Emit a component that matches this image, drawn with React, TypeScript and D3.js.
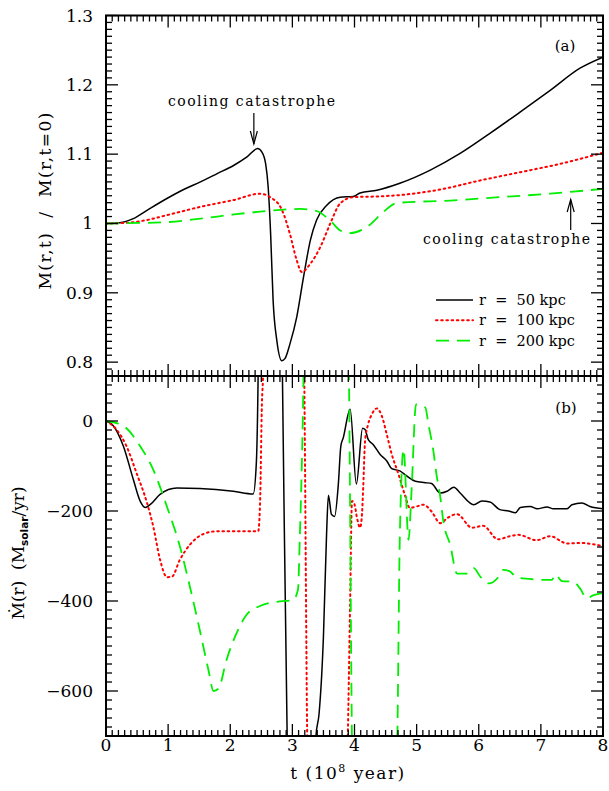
import React from "react";
import * as d3 from "d3";

// ---------- data ----------
// panel (a): M(r,t)/M(r,t=0)
const topR50: [number, number][] = [
  [0, 1.0], [0.22, 1.001], [0.44, 1.007], [0.66, 1.019], [0.98, 1.036], [1.25, 1.049],
  [1.52, 1.06], [1.79, 1.072], [2.06, 1.084], [2.27, 1.096], [2.44, 1.108], [2.51, 1.103],
  [2.57, 1.086], [2.61, 1.053], [2.65, 0.985], [2.69, 0.889], [2.75, 0.831], [2.83, 0.802],
  [2.88, 0.805], [2.96, 0.826], [3.07, 0.865], [3.18, 0.923], [3.29, 0.976], [3.39, 1.005],
  [3.55, 1.026], [3.77, 1.038], [3.98, 1.039], [4.09, 1.044], [4.36, 1.048], [4.73, 1.058],
  [5.22, 1.077], [5.7, 1.101], [6.18, 1.13], [6.67, 1.161], [7.15, 1.192], [7.63, 1.224], [8.0, 1.24],
];
const topR100: [number, number][] = [
  [0, 1.0], [0.33, 1.001], [0.66, 1.005], [0.98, 1.012], [1.52, 1.024], [2.06, 1.034],
  [2.48, 1.043], [2.64, 1.038], [2.83, 1.02], [2.96, 0.985], [3.07, 0.947], [3.15, 0.93],
  [3.29, 0.942], [3.45, 0.966], [3.61, 1.0], [3.77, 1.029], [3.98, 1.038], [4.36, 1.039],
  [4.73, 1.041], [5.38, 1.049], [6.02, 1.062], [6.67, 1.074], [7.31, 1.086], [8.0, 1.102],
];
const topR200: [number, number][] = [
  [0, 1.0], [0.98, 1.002], [1.52, 1.007], [2.06, 1.013], [2.59, 1.018], [3.13, 1.021],
  [3.39, 1.018], [3.61, 1.004], [3.77, 0.99], [3.93, 0.986], [4.2, 0.995], [4.47, 1.017],
  [4.63, 1.028], [4.73, 1.03], [5.54, 1.033], [6.34, 1.038], [7.15, 1.043], [8.0, 1.05],
];
// panel (b): Mdot(r)
const botR50: [number, number][] = [
  [0, 0], [0.12, -11], [0.28, -56], [0.44, -130], [0.55, -178], [0.63, -192], [0.71, -186],
  [0.87, -163], [1.14, -149], [1.51, -150], [2.05, -156], [2.37, -162], [2.42, -93], [2.45, 115],
  [2.47, 400], [2.81, 400], [2.84, 100], [2.92, -740], [2.95, -900], [3.34, -900], [3.38, -700],
  [3.43, -650], [3.5, -479], [3.55, -253], [3.58, -165], [3.63, -208], [3.68, -212], [3.74, -140],
  [3.78, -56], [3.82, -37], [3.93, 26], [4.03, -140], [4.13, -16], [4.17, -19], [4.22, -41],
  [4.3, -52], [4.41, -74], [4.52, -89], [4.6, -106], [4.73, -111], [4.84, -122], [4.98, -134],
  [5.14, -137], [5.24, -139], [5.38, -160], [5.49, -156], [5.6, -147], [5.7, -160], [5.92, -186],
  [6.05, -178], [6.18, -180], [6.34, -197], [6.48, -200], [6.59, -204], [6.67, -192], [6.83, -190],
  [6.94, -195], [7.1, -191], [7.2, -195], [7.42, -195], [7.5, -186], [7.66, -182], [7.79, -190],
  [8.0, -195],
];
const botR100: [number, number][] = [
  [0, 0], [0.17, -19], [0.33, -56], [0.49, -115], [0.66, -182], [0.76, -234], [0.87, -308],
  [0.98, -347], [1.06, -346], [1.19, -308], [1.35, -275], [1.57, -251], [1.79, -245], [2.05, -245],
  [2.45, -245], [2.48, -182], [2.51, 41], [2.53, 115], [2.55, 400], [3.16, 400], [3.19, 115],
  [3.24, -720], [3.26, -900], [3.86, -900], [3.89, -720], [3.93, -400], [3.96, -178], [4.0, -185],
  [4.04, -215], [4.09, -237], [4.12, -208], [4.14, -149], [4.17, -45], [4.22, -7], [4.28, 15],
  [4.36, 28], [4.44, 11], [4.52, -30], [4.6, -74], [4.71, -119], [4.81, -164], [4.89, -193],
  [5.0, -190], [5.11, -186], [5.24, -201], [5.38, -227], [5.5, -215], [5.65, -207], [5.89, -237],
  [6.07, -233], [6.31, -263], [6.5, -256], [6.64, -253], [6.93, -265], [7.15, -256], [7.42, -272],
  [7.63, -271], [8.0, -278],
];
const botR200: [number, number][] = [
  [0, 0], [0.28, -11], [0.55, -56], [0.76, -108], [0.98, -190], [1.19, -279], [1.35, -368],
  [1.51, -465], [1.65, -554], [1.73, -600], [1.81, -595], [1.94, -531], [2.1, -472], [2.26, -431],
  [2.48, -411], [2.8, -401], [3.01, -398], [3.09, -375], [3.12, -257], [3.15, -108], [3.18, 115],
  [3.2, 400], [3.88, 400], [3.91, 115], [3.96, -720], [3.98, -900], [4.66, -900], [4.69, -700],
  [4.73, -253], [4.79, -63], [4.87, -264], [4.92, -150], [4.99, 37], [5.14, 30], [5.19, -7],
  [5.27, -67], [5.32, -119], [5.38, -168], [5.43, -223], [5.54, -275], [5.65, -339], [5.81, -339],
  [5.92, -327], [6.02, -345], [6.16, -361], [6.32, -346], [6.39, -331], [6.5, -334], [6.61, -348],
  [6.83, -351], [6.99, -353], [7.18, -353], [7.23, -341], [7.34, -356], [7.52, -357], [7.63, -372],
  [7.74, -394], [7.85, -387], [8.0, -383],
];

const xTickLabels = ["0", "1", "2", "3", "4", "5", "6", "7", "8"];
const topTickValues = [0.8, 0.9, 1.0, 1.1, 1.2, 1.3];
const topTickLabels = ["0.8", "0.9", "1", "1.1", "1.2", "1.3"];
const botTickValues = [0, -200, -400, -600];
const botTickLabels = ["0", "\u2212200", "\u2212400", "\u2212600"];
const legendLabels = ["r  =  50 kpc", "r  =  100 kpc", "r  =  200 kpc"];

const FONT = "'DejaVu Serif', serif";

const styles = [
  { stroke: "#000", dash: undefined as string | undefined, width: 1.5, cap: "butt" },
  { stroke: "#ff0000", dash: "1.6 3.6", width: 2, cap: "round" },
  { stroke: "#00ee00", dash: "13 8", width: 1.8, cap: "butt" },
];

export default function App() {
  const L = 106, R = 603;
  const T1 = 15.5, B1 = 376, T2 = 376, B2 = 736;
  const x = d3.scaleLinear().domain([0, 8]).range([L, R]);
  const yTop = d3.scaleLinear().domain([0.78, 1.3]).range([B1, T1]);
  const yBot = d3.scaleLinear().domain([-700, 100]).range([B2, T2]);

  const lineTop = d3.line<[number, number]>().x(d => x(d[0])).y(d => yTop(d[1])).curve(d3.curveMonotoneX);
  const lineBot = d3.line<[number, number]>().x(d => x(d[0])).y(d => yBot(d[1])).curve(d3.curveMonotoneX);

  const xMinor = d3.range(0, 80.5, 1).map(i => i / 10);
  const topMinor = d3.range(78, 130.5, 1).map(i => i / 100);
  const botMinor = d3.range(-700, 101, 20);

  const MAJ = 12, MIN = 6;
  const tickEls: React.ReactNode[] = [];
  const tk = (key: string, x1: number, y1: number, x2: number, y2: number, w = 1.3) =>
    tickEls.push(<line key={key} x1={x1} y1={y1} x2={x2} y2={y2} stroke="#000" strokeWidth={w} />);

  xMinor.forEach((v, i) => {
    const major = i % 10 === 0;
    const len = major ? MAJ : MIN;
    const px = x(v);
    [[T1, 1], [B1, -1], [T2, 1], [B2, -1]].forEach(([yy, dir], j) =>
      tk(`x${i}_${j}`, px, yy, px, yy + dir * len));
  });
  topMinor.forEach((v, i) => {
    const major = Math.round(v * 100) % 10 === 0;
    const len = major ? MAJ : MIN;
    const py = yTop(v);
    tk(`yt${i}l`, L, py, L + len, py);
    tk(`yt${i}r`, R, py, R - len, py);
  });
  botMinor.forEach((v, i) => {
    const major = v % 200 === 0 && v <= 0 && v >= -600;
    const len = major ? MAJ : MIN;
    const py = yBot(v);
    tk(`yb${i}l`, L, py, L + len, py);
    tk(`yb${i}r`, R, py, R - len, py);
  });

  const topSeries = [topR50, topR100, topR200];
  const botSeries = [botR50, botR100, botR200];

  const arrow1x = x(2.38);
  const arrow2x = x(7.48);

  return (
    <svg width={609} height={791} style={{ position: "absolute", left: 0, top: 0, background: "#fff" }}
      fontFamily={FONT}>
      <defs>
        <clipPath id="clipTop"><rect x={L} y={T1} width={R - L} height={B1 - T1} /></clipPath>
        <clipPath id="clipBot"><rect x={L} y={T2} width={R - L} height={B2 - T2} /></clipPath>
      </defs>
      <rect x={0} y={0} width={609} height={791} fill="#fff" />

      <g clipPath="url(#clipTop)">
        {topSeries.map((s, i) => (
          <path key={i} d={lineTop(s) || ""} fill="none" stroke={styles[i].stroke}
            strokeWidth={styles[i].width} strokeDasharray={styles[i].dash}
            strokeLinecap={styles[i].cap as any} strokeLinejoin="round" />
        ))}
      </g>
      <g clipPath="url(#clipBot)">
        {botSeries.map((s, i) => (
          <path key={i} d={lineBot(s) || ""} fill="none" stroke={styles[i].stroke}
            strokeWidth={styles[i].width} strokeDasharray={styles[i].dash}
            strokeLinecap={styles[i].cap as any} strokeLinejoin="round" />
        ))}
      </g>

      {tickEls}

      <rect x={L} y={T1} width={R - L} height={B1 - T1} fill="none" stroke="#000" strokeWidth={2} />
      <rect x={L} y={T2} width={R - L} height={B2 - T2} fill="none" stroke="#000" strokeWidth={2} />

      {xTickLabels.map((t, i) => (
        <text key={t} x={x(i)} y={751} fontSize={17} textAnchor="middle">{t}</text>
      ))}
      {topTickValues.map((v, i) => (
        <text key={v} x={93} y={yTop(v) + 6} fontSize={17} textAnchor="end">{topTickLabels[i]}</text>
      ))}
      {botTickValues.map((v, i) => (
        <text key={v} x={93} y={yBot(v) + 6} fontSize={17} textAnchor="end">{botTickLabels[i]}</text>
      ))}

      <text x={348} y={779} fontSize={17} textAnchor="middle" letterSpacing={1.5}>
        t (10<tspan fontSize={11} dy={-7}>8</tspan><tspan dy={7}> year)</tspan>
      </text>
      <text transform={`translate(51,${201}) rotate(-90)`} fontSize={17} textAnchor="middle"
        textLength={177} lengthAdjust="spacing" style={{ whiteSpace: "pre" }}>
        {"M(r,t)  /  M(r,t=0)"}
      </text>
      <text transform={`translate(24,${553}) rotate(-90)`} fontSize={17} textAnchor="middle"
        style={{ whiteSpace: "pre" }}>
        {"\u1E40(r)  (M"}<tspan fontSize={10.5} fontWeight="bold" fontFamily="'DejaVu Sans', sans-serif" dy={4}>solar</tspan>
        <tspan dy={-4}>/yr)</tspan>
      </text>

      <text x={565} y={51} fontSize={15} textAnchor="middle">(a)</text>
      <text x={566} y={413} fontSize={15} textAnchor="middle">(b)</text>

      <text x={251.5} y={106} fontSize={14} textAnchor="middle" textLength={167} lengthAdjust="spacing">
        cooling catastrophe
      </text>
      <line x1={arrow1x} y1={113} x2={arrow1x} y2={144} stroke="#000" strokeWidth={1.2} />
      <polyline points={`${arrow1x - 3.5},${131} ${arrow1x},${144} ${arrow1x + 3.5},${131}`}
        fill="none" stroke="#000" strokeWidth={1.2} />
      <text x={506.5} y={244} fontSize={14} textAnchor="middle" textLength={167} lengthAdjust="spacing">
        cooling catastrophe
      </text>
      <line x1={arrow2x} y1={230} x2={arrow2x} y2={199.5} stroke="#000" strokeWidth={1.2} />
      <polyline points={`${arrow2x - 3.5},${212} ${arrow2x},${199.5} ${arrow2x + 3.5},${212}`}
        fill="none" stroke="#000" strokeWidth={1.2} />

      {legendLabels.map((lab, i) => {
        const yy = 300 + i * 20.3;
        return (
          <g key={lab}>
            <line x1={436} x2={473} y1={yy} y2={yy} stroke={styles[i].stroke}
              strokeWidth={styles[i].width} strokeDasharray={styles[i].dash}
              strokeLinecap={styles[i].cap as any} />
            <text x={479} y={yy + 5} fontSize={14.5} style={{ whiteSpace: "pre" }}>{lab}</text>
          </g>
        );
      })}
    </svg>
  );
}
